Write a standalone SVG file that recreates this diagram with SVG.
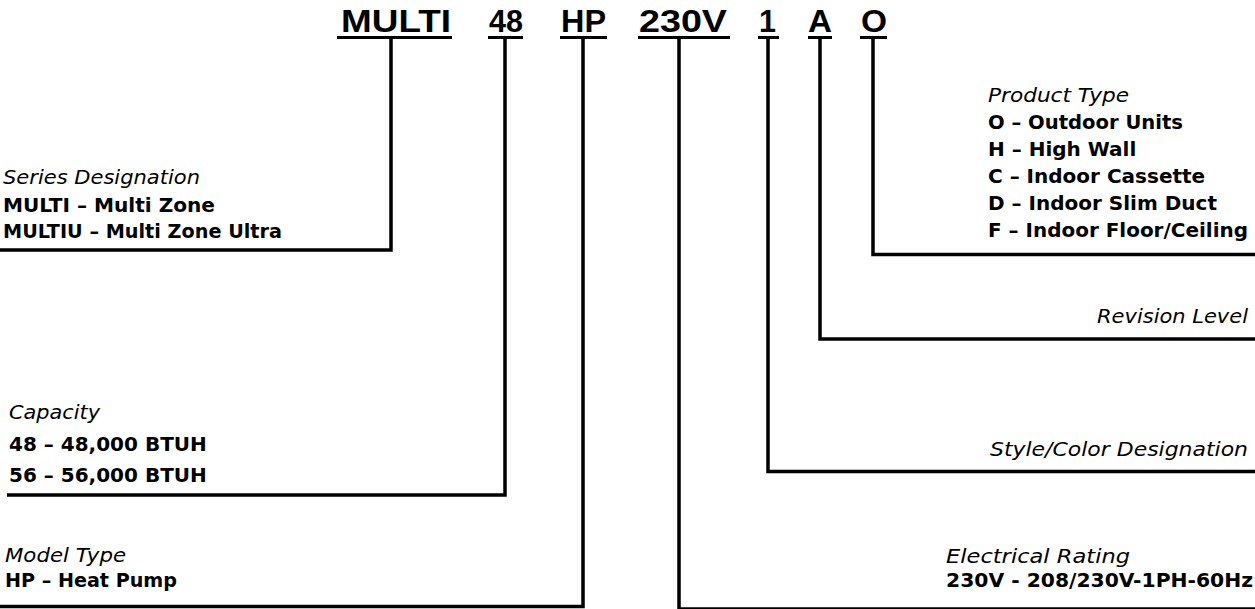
<svg xmlns="http://www.w3.org/2000/svg" width="1255" height="609" viewBox="0 0 1255 609">
<style>
.t{font-family:"Liberation Sans",Arial,sans-serif;font-weight:bold;font-size:31px;fill:#000}
.i{font-family:"DejaVu Sans",Verdana,sans-serif;font-style:italic;font-size:20px;fill:#000}
.b{font-family:"DejaVu Sans",Verdana,sans-serif;font-weight:bold;font-size:20px;fill:#000}
.c{fill:none;stroke:#000;stroke-width:3.5;stroke-linejoin:miter}
</style>
<rect width="1255" height="609" fill="#fff"/>
<g id="title">
<text class="t" x="341" y="32" textLength="110" lengthAdjust="spacingAndGlyphs">MULTI</text>
<text class="t" x="489" y="32" textLength="34" lengthAdjust="spacingAndGlyphs">48</text>
<text class="t" x="561" y="32" textLength="45" lengthAdjust="spacingAndGlyphs">HP</text>
<text class="t" x="639" y="32" textLength="88" lengthAdjust="spacingAndGlyphs">230V</text>
<text class="t" x="759" y="32" textLength="17" lengthAdjust="spacingAndGlyphs">1</text>
<text class="t" x="808" y="32" textLength="24" lengthAdjust="spacingAndGlyphs">A</text>
<text class="t" x="861" y="32" textLength="26" lengthAdjust="spacingAndGlyphs">O</text>
<rect x="337" y="36" width="115" height="3"/>
<rect x="488" y="36" width="35" height="3"/>
<rect x="560" y="36" width="47" height="3"/>
<rect x="638" y="36" width="92" height="3"/>
<rect x="758" y="36" width="21" height="3"/>
<rect x="808" y="36" width="24" height="3"/>
<rect x="860" y="36" width="27" height="3"/>
</g>
<g id="connectors">
<path class="c" d="M391,38 V250 H0"/>
<path class="c" d="M505,38 V495 H7"/>
<path class="c" d="M583,38 V606.5 H0"/>
<path class="c" d="M679,38 V609 H1255"/>
<path class="c" d="M768,38 V471.5 H1255"/>
<path class="c" d="M820,38 V339 H1255"/>
<path class="c" d="M873,38 V254.5 H1255"/>
</g>
<g id="series">
<text class="i" x="3" y="184" textLength="197" lengthAdjust="spacingAndGlyphs">Series Designation</text>
<text class="b" x="3" y="212" textLength="212" lengthAdjust="spacingAndGlyphs">MULTI – Multi Zone</text>
<text class="b" x="3" y="238" textLength="279" lengthAdjust="spacingAndGlyphs">MULTIU – Multi Zone Ultra</text>
</g>
<g id="capacity">
<text class="i" x="9" y="419" textLength="91" lengthAdjust="spacingAndGlyphs">Capacity</text>
<text class="b" x="9" y="451">48 – 48,000 BTUH</text>
<text class="b" x="9" y="482">56 – 56,000 BTUH</text>
</g>
<g id="model">
<text class="i" x="5" y="562" textLength="121" lengthAdjust="spacingAndGlyphs">Model Type</text>
<text class="b" x="5" y="587" textLength="172" lengthAdjust="spacingAndGlyphs">HP – Heat Pump</text>
</g>
<g id="product">
<text class="i" x="988" y="102" textLength="141" lengthAdjust="spacingAndGlyphs">Product Type</text>
<text class="b" x="988" y="129" textLength="195" lengthAdjust="spacingAndGlyphs">O – Outdoor Units</text>
<text class="b" x="988" y="156">H – High Wall</text>
<text class="b" x="988" y="183">C – Indoor Cassette</text>
<text class="b" x="988" y="210">D – Indoor Slim Duct</text>
<text class="b" x="988" y="237" textLength="260" lengthAdjust="spacingAndGlyphs">F – Indoor Floor/Ceiling</text>
</g>
<g id="revision">
<text class="i" x="1248" y="323" text-anchor="end" textLength="151" lengthAdjust="spacingAndGlyphs">Revision Level</text>
</g>
<g id="style">
<text class="i" x="1248" y="456" text-anchor="end" textLength="258" lengthAdjust="spacingAndGlyphs">Style/Color Designation</text>
</g>
<g id="electrical">
<text class="i" x="946" y="563" textLength="184" lengthAdjust="spacingAndGlyphs">Electrical Rating</text>
<text class="b" x="946" y="587" textLength="307" lengthAdjust="spacingAndGlyphs">230V - 208/230V-1PH-60Hz</text>
</g>
</svg>
